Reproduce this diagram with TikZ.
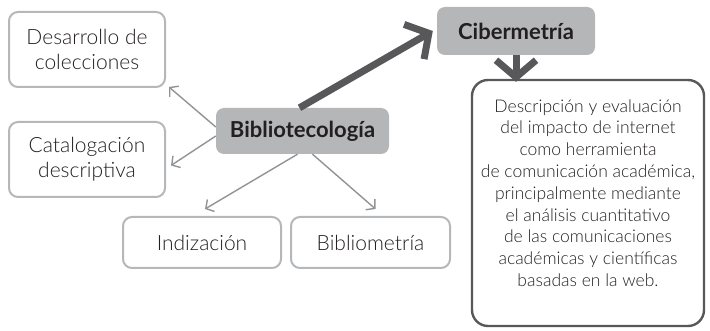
\documentclass[tikz,border=0pt]{standalone}
\usepackage{fontspec}
\setmainfont{Lato Light}[BoldFont=Lato Bold]
\usetikzlibrary{arrows.meta}

\definecolor{lightline}{HTML}{B5B8BA}
\definecolor{boxfill}{HTML}{B4B6B8}
\definecolor{darkline}{HTML}{58585A}
\definecolor{txt}{HTML}{231F20}

\tikzstyle{rama} = [draw=lightline, line width=2pt, rounded corners=9pt, align=center, text=txt, font=\fontsize{21}{25}\selectfont]
\tikzstyle{tema} = [fill=boxfill, rounded corners=8pt, align=center, text=txt, font=\fontsize{22}{26}\selectfont\bfseries]
\tikzstyle{nota} = [draw=darkline, line width=2.4pt, rounded corners=16pt]
\tikzstyle{notatexto} = [align=center, text=txt, font=\fontsize{17.5}{21.8}\selectfont]
\tikzstyle{fina} = [draw=lightline!80!black, line width=1.4pt, -{Straight Barb[length=6pt,width=14pt]}]
\tikzstyle{gruesa} = [draw=darkline, line width=7pt, -{Straight Barb[length=17pt,width=40pt]}]

\begin{document}
\begin{tikzpicture}[x=1pt, y=-1pt]
    \useasboundingbox (0,0) rectangle (710,331);

    % central topic
    \node at (302.5,131) [tema, minimum width=173pt, minimum height=46pt] (bib) {Bibliotecolog\'ia};

    % branches
    \node at (87,49.5) [rama, minimum width=156pt, minimum height=75pt] (des) {Desarrollo de\\colecciones};
    \node at (87,159.5) [rama, minimum width=156pt, minimum height=75pt] (cat) {Catalogaci\'on\\descriptiva};
    \node at (202,242.5) [rama, minimum width=158pt, minimum height=51pt] (ind) {Indizaci\'on};
    \node at (370.5,242.5) [rama, minimum width=159pt, minimum height=51pt] (bim) {Bibliometr\'ia};

    \draw [fina] ([yshift=4pt]bib.west) -- ([xshift=3pt,yshift=1pt]des.south east);
    \draw [fina] ([yshift=-5pt]bib.west) -- ([xshift=5pt,yshift=-6pt]cat.east);
    \draw [fina] ([xshift=-5pt]bib.south) -- ([xshift=3pt,yshift=7pt]ind.north);
    \draw [fina] ([xshift=10pt]bib.south) -- ([xshift=5pt,yshift=7pt]bim.north);

    % cibermetria
    \node at (516,31) [tema, minimum width=158pt, minimum height=48pt] (cib) {Cibermetr\'ia};
    \node at (588,203) [nota, minimum width=232pt, minimum height=246pt] (desc) {};
    \node at ([yshift=10pt]desc.center) [notatexto] (desctxt) {Descripci\'on y evaluaci\'on\\del impacto de internet\\como herramienta\\de comunicaci\'on acad\'emica,\\principalmente mediante\\el an\'alisis cuantitativo\\de las comunicaciones\\acad\'emicas y cient\'ificas\\basadas en la web.};

    \draw [gruesa] ([xshift=-3pt]bib.north) -- ([xshift=-4pt]cib.west);
    \draw [gruesa] (cib.south) -- ([yshift=-3pt]cib.south |- desc.north);

\end{tikzpicture}
\end{document}
